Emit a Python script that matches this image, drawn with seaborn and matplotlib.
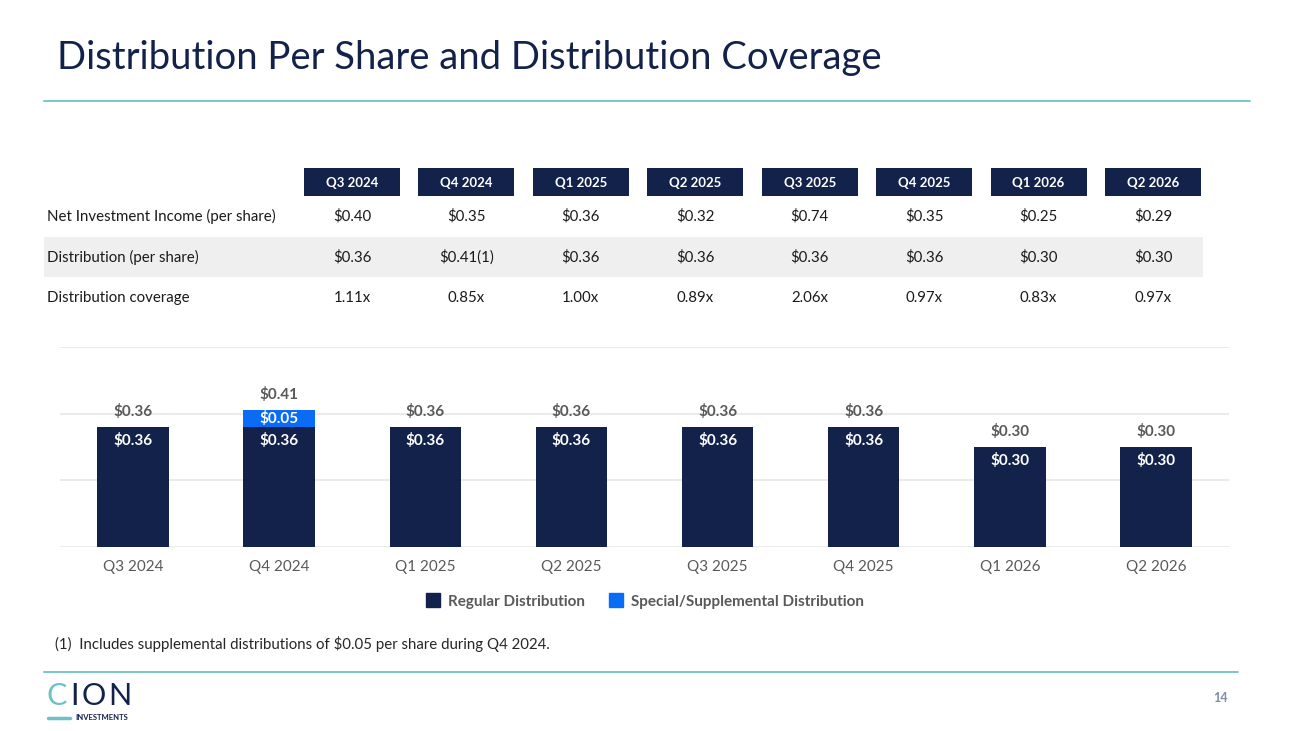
import numpy as np
import pandas as pd
import matplotlib.pyplot as plt
import seaborn as sns
from matplotlib.patches import Patch, Rectangle
from matplotlib.lines import Line2D

# Dados do slide
quarters = ["Q3 2024", "Q4 2024", "Q1 2025", "Q2 2025",
            "Q3 2025", "Q4 2025", "Q1 2026", "Q2 2026"]
nii = [0.40, 0.35, 0.36, 0.32, 0.74, 0.35, 0.25, 0.29]
regular = [0.36, 0.36, 0.36, 0.36, 0.36, 0.36, 0.30, 0.30]
special = [0.00, 0.05, 0.00, 0.00, 0.00, 0.00, 0.00, 0.00]
coverage = [1.11, 0.85, 1.00, 0.89, 2.06, 0.97, 0.83, 0.97]
footnote_marks = ["", "(1)", "", "", "", "", "", ""]
row_labels = ["Net Investment Income (per share)", "Distribution (per share)",
              "Distribution coverage"]

NAVY = "#13224B"
BLUE = "#0A6CF5"
TEAL = "#6EC1C4"
GRAY = "#595959"

W, H = 1300, 731

sns.set_theme(style="white")
plt.rcParams["font.family"] = ["Lato", "DejaVu Sans"]


def fx(px):
    return px / W


def fy(py):
    return 1 - py / H


df = pd.DataFrame({"quarter": quarters, "regular": regular, "special": special})
df["total"] = df["regular"] + df["special"]

fig = plt.figure(figsize=(13, 7.31), dpi=100)
fig.patch.set_facecolor("white")

# Titulo e linhas
fig.text(fx(57), fy(58), "Distribution Per Share and Distribution Coverage",
         fontsize=27.5, color=NAVY, va="center", ha="left")
fig.add_artist(Line2D([fx(44), fx(1250)], [fy(101), fy(101)], color=TEAL, lw=1.3))
fig.add_artist(Line2D([fx(44), fx(1238)], [fy(672), fy(672)], color=TEAL, lw=1.3))

# Tabela
col_x = np.linspace(352, 1153, len(quarters))
fig.add_artist(Rectangle((fx(44), fy(277)), fx(1203) - fx(44), fy(237) - fy(277),
                         color="#EFEFEF", lw=0))
for cx, q in zip(col_x, quarters):
    fig.add_artist(Rectangle((fx(cx - 48), fy(196)), fx(96), fy(168) - fy(196),
                             color=NAVY, lw=0))
    fig.text(fx(cx), fy(182), q, fontsize=9.5, fontweight="bold", color="white",
             ha="center", va="center_baseline")

row_y = [215, 256, 297]
TXT = dict(fontsize=10.8, color="#1a1a1a", va="center_baseline")
for ry, lab in zip(row_y, row_labels):
    fig.text(fx(47), fy(ry), lab, ha="left", **TXT)
for i, cx in enumerate(col_x):
    fig.text(fx(cx), fy(row_y[0]), f"${nii[i]:.2f}", ha="center", **TXT)
    fig.text(fx(cx), fy(row_y[1]), f"${df['total'][i]:.2f}{footnote_marks[i]}",
             ha="center", **TXT)
    fig.text(fx(cx), fy(row_y[2]), f"{coverage[i]:.2f}x", ha="center", **TXT)

# Grafico de barras empilhadas
ax = fig.add_axes([fx(60), fy(547), fx(1169), fy(347) - fy(547)])
sns.barplot(data=df, x="quarter", y="total", color=BLUE, saturation=1,
            width=0.49, linewidth=0, ax=ax)
sns.barplot(data=df, x="quarter", y="regular", color=NAVY, saturation=1,
            width=0.49, linewidth=0, ax=ax)
ax.set_ylim(0, 0.6)
ax.set_xlim(-0.5, len(quarters) - 0.5)
ax.set_yticks([0, 0.2, 0.4, 0.6])
ax.set_yticklabels([])
ax.yaxis.grid(True, color="#E6E6E6", lw=1.2)
ax.set_axisbelow(True)
for s in ax.spines.values():
    s.set_visible(False)
ax.set_xlabel("")
ax.set_ylabel("")
ax.tick_params(axis="x", length=0, pad=9, labelsize=11, labelcolor=GRAY)
ax.tick_params(axis="y", length=0)

for i, row in df.iterrows():
    ax.annotate(f"${row['total']:.2f}", (i, row["total"]), xytext=(0, 11.5),
                textcoords="offset points", ha="center", va="center",
                fontsize=11, fontweight="bold", color=GRAY)
    ax.annotate(f"${row['regular']:.2f}", (i, row["regular"]), xytext=(0, -9.5),
                textcoords="offset points", ha="center", va="center",
                fontsize=11, fontweight="bold", color="white")
    if row["special"] > 0:
        ax.text(i, row["regular"] + row["special"] / 2, f"${row['special']:.2f}",
                ha="center", va="center", fontsize=11, fontweight="bold", color="white")

# Legenda
handles = [Patch(color=NAVY), Patch(color=BLUE)]
fig.legend(handles, ["Regular Distribution", "Special/Supplemental Distribution"],
           loc="center", bbox_to_anchor=(fx(645), fy(601)), ncol=2, frameon=False,
           prop={"weight": "bold", "size": 11}, labelcolor=GRAY,
           handlelength=0.9, handleheight=1.0, handletextpad=0.5, columnspacing=1.6)

# Nota de rodape
fig.text(fx(55), fy(643),
         "(1)  Includes supplemental distributions of $0.05 per share during Q4 2024.",
         fontsize=10.8, color="#262626", ha="left", va="center_baseline")

# Logo e numero da pagina
logo_kw = dict(fontsize=22, ha="left", va="center", fontweight="normal")
fig.text(fx(46), fy(696), "C", color=TEAL, **logo_kw)
fig.text(fx(70), fy(696), "I", color=NAVY, **logo_kw)
fig.text(fx(82), fy(696), "O", color=NAVY, **logo_kw)
fig.text(fx(108), fy(696), "N", color=NAVY, **logo_kw)
fig.add_artist(Line2D([fx(48), fx(70)], [fy(718), fy(718)], color=TEAL, lw=2.5))
fig.text(fx(75), fy(718), "INVESTMENTS", fontsize=5.5, fontweight="bold", color=NAVY,
         ha="left", va="center")
fig.text(fx(1220), fy(698), "14", fontsize=9, fontweight="bold", color="#7F8CA3",
         ha="center", va="center")

fig.savefig("out.png", dpi=100, facecolor="white")
